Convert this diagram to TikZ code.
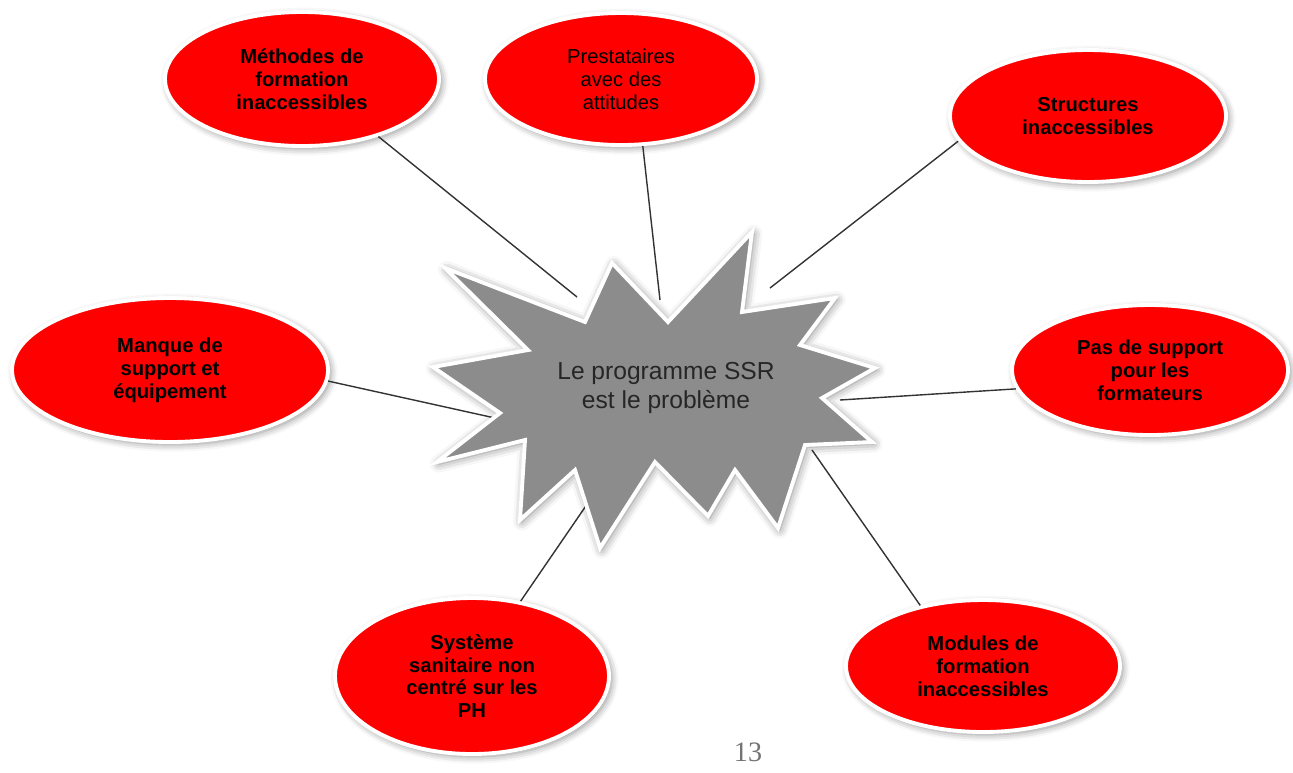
\documentclass[tikz,border=0pt]{standalone}
\usepackage{fontspec}
\setmainfont{Liberation Sans}
\newfontfamily\numfont{Liberation Serif}
\usetikzlibrary{shapes.geometric,shadows.blur}
\begin{document}
\begin{tikzpicture}[x=0.02cm,y=-0.02cm,
  bubble/.style 2 args={ellipse, draw=white, line width=2.2pt, fill=red, inner sep=0pt,
    minimum width={#1*0.02cm}, minimum height={#2*0.02cm},
    align=center, font=\fontsize{11.5}{13}\selectfont\bfseries, text=black,
    blur shadow={shadow xshift=1.5pt, shadow yshift=-1.5pt, shadow blur radius=4pt, shadow opacity=45}},
  link/.style={draw=black!80, line width=0.8pt},
  burst/.style={fill=black!45, draw=white, line width=2.2pt, line join=miter,
    blur shadow={shadow xshift=1pt, shadow yshift=-1pt, shadow blur radius=5pt, shadow opacity=50}},
  coretext/.style={font=\fontsize{14}{17}\selectfont, align=center, text=black!85},
  pagenum/.style={text=black!55, font=\numfont\fontsize{16}{16}\selectfont}]
\useasboundingbox (0,0) rectangle (1293,772);

% bubbles
\node[bubble={274}{134}] (m1) at (302,79) {Méthodes de\\formation\\inaccessibles};
\node[bubble={272}{132}] (m2) at (621,79) {\mdseries Prestataires\\\mdseries avec des\\\mdseries attitudes};
\node[bubble={276}{132}] (m3) at (1088,116) {Structures\\inaccessibles};
\node[bubble={316}{144}] (m4) at (170,370) {Manque de\\support et\\équipement};
\node[bubble={276}{130}] (m5) at (1150,370) {Pas de support\\pour les\\formateurs};
\node[bubble={274}{156}] (m6) at (472,676) {Système\\sanitaire non\\centré sur les\\PH};
\node[bubble={274}{132}] (m7) at (983,666) {Modules de\\formation\\inaccessibles};

% connector ends at the burst
\coordinate (e1) at (577,297);
\coordinate (e2) at (660,300);
\coordinate (e3) at (770,288);
\coordinate (e4) at (495,418);
\coordinate (e5) at (840,400);
\coordinate (e6) at (592,497);
\coordinate (e7) at (812,450);

\draw[link] (m1.-37) -- (e1);
\draw[link] (m2.-72) -- (e2);
\draw[link] (m3.191) -- (e3);
\draw[link] (m4.-4) -- (e4);
\draw[link] (m5.188) -- (e5);
\draw[link] (m6.57) -- (e6);
\draw[link] (m7.136) -- (e7);

% starburst
\path[burst] (445,268) -- (585,322) -- (612,263) -- (668,322) -- (752,232) -- (742,312)
  -- (835,298) -- (800,345) -- (875,368) -- (822,398) -- (872,442) -- (805,445)
  -- (778,528) -- (735,470) -- (708,516) -- (655,462) -- (600,548) -- (575,470)
  -- (520,520) -- (525,440) -- (437,462) -- (500,413) -- (433,367) -- (528,350) -- cycle;

\node[coretext] (core) at (666,388) {Le programme SSR\\est le problème};

\node[pagenum] (pg) at (748,752) {13};
\end{tikzpicture}
\end{document}
